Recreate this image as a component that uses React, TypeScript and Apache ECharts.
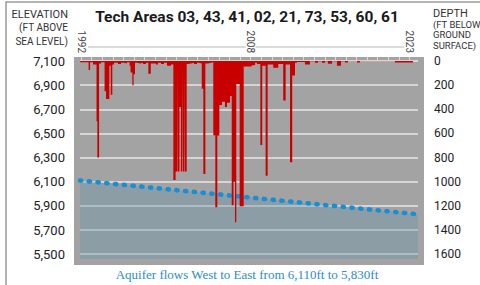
import React, { useEffect, useRef } from "react";
import * as echarts from "echarts";

const TITLE = "Tech Areas 03, 43, 41, 02, 21, 73, 53, 60, 61";
const CAPTION = "Aquifer flows West to East from 6,110ft to 5,830ft";
const LEFT_HEADER = ["ELEVATION", "(FT ABOVE", "SEA LEVEL)"];
const RIGHT_HEADER = ["DEPTH", "(FT BELOW", "GROUND", "SURFACE)"];

const YEAR_TICKS = [
  1992, 1993, 1994, 1995, 1996, 1997, 1998, 1999, 2000, 2001, 2002, 2003, 2004, 2005, 2006, 2007,
  2008, 2009, 2010, 2011, 2012, 2013, 2014, 2015, 2016, 2017, 2018, 2019, 2020, 2021, 2022, 2023,
];
const YEAR_LABELS = [1992, 2008, 2023];
const ELEVATION_TICKS = [5500, 5700, 5900, 6100, 6300, 6500, 6700, 6900, 7100];
const DEPTH_TICKS = [0, 200, 400, 600, 800, 1000, 1200, 1400, 1600];

// Aquifer surface (ft above sea level), west to east
const AQUIFER_YEARS = [1991.9, 2023.8];
const AQUIFER_ELEV = [6110, 5830];

// Depth to water (ft below ground surface), step segments starting at each year
const WELL_YEARS = [
  1991.91, 1992.71, 1992.85, 1993.13, 1993.46, 1993.54, 1993.7, 1993.89, 1994.22, 1994.36, 1994.67,
  1994.8, 1994.95, 1995.11, 1995.49, 1995.77, 1996.06, 1996.34, 1996.58, 1996.67, 1996.84, 1996.96,
  1997.09, 1997.28, 1997.57, 1997.85, 1998.13, 1998.35, 1998.58, 1998.79, 1999.08, 1999.26, 1999.55,
  1999.83, 2000.11, 2000.49, 2000.71, 2000.92, 2001.06, 2001.1, 2001.29, 2001.42, 2001.56, 2001.62,
  2001.76, 2001.81, 2001.97, 2002.09, 2002.38, 2002.66, 2002.94, 2003.13, 2003.39, 2003.54, 2003.73,
  2003.98, 2004.26, 2004.48, 2004.67, 2004.86, 2005.05, 2005.3, 2005.58, 2005.77, 2006.06, 2006.22,
  2006.39, 2006.53, 2006.65, 2006.97, 2007.35, 2008.1, 2008.42, 2008.6, 2008.92, 2009.1, 2009.42,
  2009.61, 2010.14, 2010.61, 2011.08, 2011.31, 2011.72, 2011.93, 2012.19, 2012.38, 2013.13, 2013.6,
  2014.08, 2014.36, 2014.74, 2015.02, 2015.3, 2015.68, 2016.15, 2016.53, 2016.91, 2017.19, 2018.04,
  2018.32, 2021.62, 2023.32,
];
const WELL_DEPTHS = [
  10, 75, 10, 30, 500, 800, 20, 10, 250, 315, 40,
  280, 30, 15, 25, 15, 20, 10, 40, 95, 200, 110,
  15, 20, 15, 25, 15, 105, 20, 20, 30, 15, 25,
  15, 40, 30, 985, 915, 60, 915, 380, 915, 60, 915,
  60, 915, 25, 20, 15, 25, 15, 20, 230, 935, 20,
  15, 10, 614, 1212, 617, 365, 337, 380, 345, 290, 1195,
  1000, 1336, 190, 1204, 45, 35, 15, 25, 695, 40, 950,
  30, 55, 25, 327, 30, 838, 120, 15, 8, 30, 5,
  15, 5, 15, 5, 22, 5, 40, 5, 12, 3, 12,
  3, 12, 0,
];

export default function App() {
  const ref = useRef<HTMLDivElement>(null);

  useEffect(() => {
    if (!ref.current) return;
    const chart = echarts.init(ref.current, undefined, { renderer: "svg" });

    const fmt = (v: number) => v.toLocaleString("en-US");

    const option: any = {
      animation: false,
      backgroundColor: "#ffffff",
      grid: { left: 80, right: 62, top: 61, bottom: 26, containLabel: false },
      xAxis: {
        type: "value",
        position: "top",
        min: 1991.9,
        max: 2023.8,
        axisLine: { show: false },
        axisTick: {
          show: true,
          customValues: YEAR_TICKS,
          length: 4,
          lineStyle: { color: "#dadada", width: 1 },
        },
        axisLabel: {
          customValues: YEAR_LABELS,
          rotate: -90,
          margin: 6,
          fontSize: 10,
          color: "#444",
          fontFamily: "Roboto",
          formatter: (v: number) => String(Math.round(v)),
          backgroundColor: "#ffffff",
          padding: [0, 2],
        },
        splitLine: { show: false },
      },
      yAxis: [
        {
          type: "value",
          position: "left",
          min: 5460,
          max: 7100,
          axisLine: { show: false },
          axisTick: { show: false, customValues: ELEVATION_TICKS },
          axisLabel: {
            customValues: ELEVATION_TICKS,
            margin: 15,
            fontSize: 13,
            color: "#222",
            fontFamily: "Roboto",
            formatter: (v: number) => fmt(v),
          },
          splitLine: { show: true, lineStyle: { color: "#e6e6e6", width: 1.5 } },
        },
        {
          type: "value",
          position: "right",
          min: 0,
          max: 1640,
          inverse: true,
          axisLine: { show: false },
          axisTick: { show: false, customValues: DEPTH_TICKS },
          axisLabel: {
            customValues: DEPTH_TICKS,
            margin: 16,
            fontSize: 12,
            color: "#222",
            fontFamily: "Roboto",
            formatter: (v: number) => String(v),
          },
          splitLine: { show: false },
        },
      ],
      series: [
        {
          type: "line",
          name: "Aquifer",
          yAxisIndex: 0,
          data: AQUIFER_YEARS.map((x, i) => [x, AQUIFER_ELEV[i]]),
          symbol: "none",
          lineStyle: { color: "#1a8ed4", width: 4.6, type: [1.2, 7.6], cap: "round" },
          areaStyle: { color: "rgba(97,146,169,0.35)", origin: "start", opacity: 1 },
          z: 2,
        },
        {
          type: "line",
          name: "Depth to water",
          yAxisIndex: 1,
          step: "end",
          data: WELL_YEARS.map((x, i) => [x, WELL_DEPTHS[i]]),
          symbol: "none",
          lineStyle: { width: 0 },
          areaStyle: { color: "#c80000", opacity: 1, origin: "start" },
          z: 3,
        },
      ],
      graphic: [
        {
          type: "rect",
          z: -10,
          silent: true,
          shape: { x: 74, y: 57, width: 350, height: 208 },
          style: { fill: "#a3a3a3" },
        },
        {
          type: "polyline",
          z: -10,
          silent: true,
          shape: { points: [[6, 290], [6, 2], [485, 2]] },
          style: { stroke: "#9a9a9a", lineWidth: 1.5, fill: null },
        },
        {
          type: "line",
          z: -10,
          silent: true,
          shape: { x1: 88, y1: 47, x2: 404, y2: 47 },
          style: { stroke: "#b8b8b8", lineWidth: 1.2 },
        },
        {
          type: "text",
          x: 247,
          y: 17,
          style: {
            text: TITLE,
            fontSize: 15.5,
            fontWeight: "bold",
            fontFamily: "Roboto",
            fill: "#1a1a1a",
            align: "center",
            verticalAlign: "middle",
          },
        },
        ...LEFT_HEADER.map((t, i) => ({
          type: "text",
          x: 68,
          y: [14, 27.5, 41][i],
          style: {
            text: t,
            fontSize: i === 0 ? 11 : 10,
            fontFamily: "Roboto",
            fill: "#333",
            align: "right",
            verticalAlign: "middle",
          },
        })),
        ...RIGHT_HEADER.map((t, i) => ({
          type: "text",
          x: 433,
          y: [13, 24.5, 34.5, 45][i],
          style: {
            text: t,
            fontSize: i === 0 ? 11 : 9.5,
            fontFamily: "Roboto",
            fill: "#333",
            align: "left",
            verticalAlign: "middle",
          },
        })),
        {
          type: "text",
          x: 247,
          y: 274,
          style: {
            text: CAPTION,
            fontSize: 13,
            fontFamily: "'Liberation Serif', serif",
            fill: "#2b8dc9",
            align: "center",
            verticalAlign: "middle",
          },
        },
      ],
    };

    chart.setOption(option);
    return () => chart.dispose();
  }, []);

  return (
    <div
      ref={ref}
      style={{ position: "fixed", left: 0, top: 0, width: 480, height: 285 }}
    />
  );
}
